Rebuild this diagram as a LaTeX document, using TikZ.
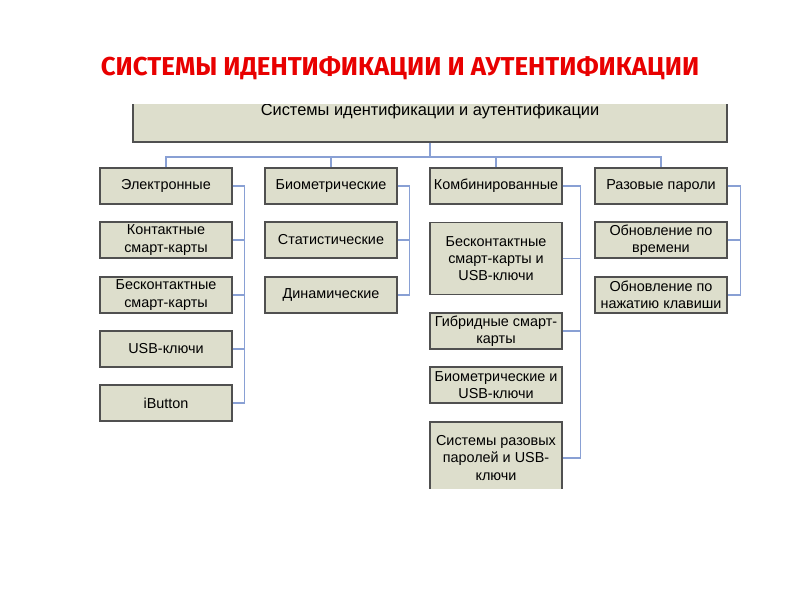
\documentclass[tikz,border=0pt]{standalone}
\usepackage{fontspec}
\setmainfont{Liberation Sans}
\newfontfamily\titlefont{Fira Sans}
\usetikzlibrary{positioning,calc}
\definecolor{boxfill}{RGB}{221,222,204}
\definecolor{boxline}{RGB}{80,80,80}
\definecolor{linkblue}{RGB}{137,160,212}
\definecolor{titlered}{RGB}{232,0,0}

\tikzset{
  box/.style={draw=boxline, fill=boxfill, line width=0.9pt, minimum width=99pt,
    minimum height=27pt, align=center, inner sep=1pt,
    font=\fontsize{10.8}{13}\selectfont},
  tallbox/.style={box, minimum height=54pt},
  link/.style={draw=linkblue, line width=0.8pt},
}

\begin{document}
\begin{tikzpicture}[x=0.75pt,y=-0.75pt]
            \useasboundingbox (0,0) rectangle (800,600);

            % Title
            \node[text=titlered, font=\titlefont\bfseries\fontsize{19.4}{22}\selectfont] (title) at (400,68)
                {СИСТЕМЫ ИДЕНТИФИКАЦИИ И АУТЕНТИФИКАЦИИ};

            \begin{scope}
            \clip (0,104) rectangle (800,488);

            % Root
            \node[box, minimum width=445.5pt, minimum height=46.5pt, font=\fontsize{12.3}{14}\selectfont] (root) at (430,111)
                {Системы идентификации и аутентификации};
            \coordinate (bus) at (430,157);

            % Electronic
            \node[box] (elec) at (166,186) {Электронные};
            \node[box] (contact) at (166,240) {Контактные\\смарт-карты};
            \node[box] (contactless) at (166,295) {Бесконтактные\\смарт-карты};
            \node[box] (usbkey) at (166,349) {USB-ключи};
            \node[box] (ibutton) at (166,403) {iButton};

            % Biometric
            \node[box] (bio) at (331,186) {Биометрические};
            \node[box] (stat) at (331,240) {Статистические};
            \node[box] (dyn) at (331,295) {Динамические};

            % Combined
            \node[box] (comb) at (496,186) {Комбинированные};
            \node[tallbox] (cardusb) at (496,258.5) {Бесконтактные\\смарт-карты и\\USB-ключи};
            \node[box] (hybrid) at (496,331) {Гибридные смарт-\\карты};
            \node[box] (biousb) at (496,385) {Биометрические и\\USB-ключи};
            \node[tallbox] (otpusb) at (496,458) {Системы разовых\\паролей и USB-\\ключи};

            % One-time passwords
            \node[box] (otp) at (661,186) {Разовые пароли};
            \node[box] (bytime) at (661,240) {Обновление по\\времени};
            \node[box] (bykey) at (661,295) {Обновление по\\нажатию клавиши};

            % Tree
            \draw[link] (root.south) -- (bus);
            \draw[link] (elec.north) -- (elec.north |- bus) -- (otp.north |- bus) -- (otp.north);
            \draw[link] (bio.north) -- (bio.north |- bus);
            \draw[link] (comb.north) -- (comb.north |- bus);

            % Brackets
            \draw[link] (elec.east) -- ++(12,0) coordinate (r1) |- (ibutton.east);
            \foreach \n in {contact,contactless,usbkey}
                \draw[link] (\n.east) -- (\n.east -| r1);
            \draw[link] (bio.east) -- ++(12,0) coordinate (r2) |- (dyn.east);
            \draw[link] (stat.east) -- (stat.east -| r2);
            \draw[link] (comb.east) -- ++(18,0) coordinate (r3) |- (otpusb.east);
            \foreach \n in {cardusb,hybrid}
                \draw[link] (\n.east) -- (\n.east -| r3);
            \draw[link] (otp.east) -- ++(13,0) coordinate (r4) |- (bykey.east);
            \draw[link] (bytime.east) -- (bytime.east -| r4);
            \end{scope}
        \end{tikzpicture}
\end{document}
